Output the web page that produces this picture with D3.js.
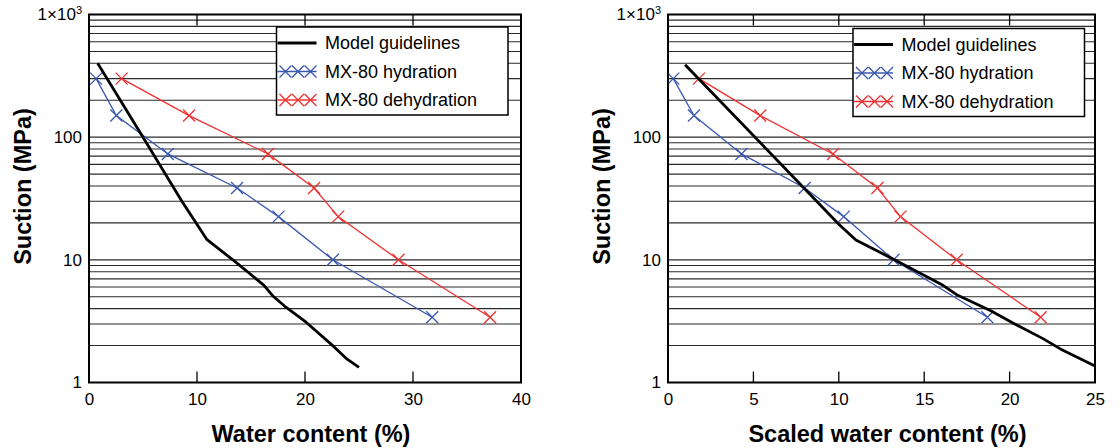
<!DOCTYPE html>
<html>
<head>
<meta charset="utf-8">
<script src="https://cdn.jsdelivr.net/npm/d3@7"></script>
<style>
  html, body { margin: 0; padding: 0; background: #fff; }
  svg { display: block; font-family: "Liberation Sans", Arial, sans-serif; }
</style>
</head>
<body>
<svg id="chart" width="1120" height="448"></svg>
<script>
// ---------------- DATA ----------------
const seriesNames = ["Model guidelines", "MX-80 hydration", "MX-80 dehydration"];
const suctionTicks = [1, 10, 100, 1000];
const leftXTicks = [0, 10, 20, 30, 40];
const rightXTicks = [0, 5, 10, 15, 20, 25];

// measured suction levels (MPa) for MX-80 points
const suction = [300, 150, 73, 38.5, 22.5, 10, 3.4];

// left panel: water content (%)
const hydrationWaterLeft   = [0.66, 2.53, 7.30, 13.71, 17.55, 22.58, 31.78];
const dehydrationWaterLeft = [3.02, 9.27, 16.57, 20.84, 23.07, 28.66, 37.14];
const modelWaterLeft   = [0.8, 5.0, 8.6, 10.9, 13.5, 16.2, 17.0, 18.1, 20.1, 22.7, 23.9, 25.0];
const modelSuctionLeft = [400, 100, 30, 14.7, 9.7, 6.2, 5.1, 4.2, 3.1, 1.95, 1.55, 1.33];

// right panel: scaled water content (%)
const hydrationWaterRight   = [0.31, 1.52, 4.30, 8.0, 10.29, 13.2, 18.7];
const dehydrationWaterRight = [1.81, 5.40, 9.66, 12.26, 13.61, 16.9, 21.82];
const modelWaterRight   = [1.0, 10.0, 11.0, 13.4, 16.1, 16.9, 18.9, 20.3, 21.9, 23.0, 25.0];
const modelSuctionRight = [390, 19.5, 14.5, 9.8, 6.2, 5.2, 3.85, 3.0, 2.3, 1.87, 1.36];

// ---------------- STYLE / LAYOUT ----------------
const colors = { model: "#000000", hyd: "#3a57b0", dehyd: "#ee3030" };
const panels = [
  { x0: 89, x1: 521, xmax: 40, xticks: leftXTicks, xlabel: "Water content (%)",
    model: [modelWaterLeft, modelSuctionLeft], hyd: hydrationWaterLeft, dehyd: dehydrationWaterLeft,
    ylabX: 31, legX: 276.5, legY: 27 },
  { x0: 668, x1: 1095, xmax: 25, xticks: rightXTicks, xlabel: "Scaled water content (%)",
    model: [modelWaterRight, modelSuctionRight], hyd: hydrationWaterRight, dehyd: dehydrationWaterRight,
    ylabX: 610, legX: 853, legY: 28.5 }
];
const yTop = 14.5, yBot = 382.5;

const svg = d3.select("#chart");

function cross(g, x, y, s, color) {
  g.append("path")
    .attr("d", `M${x - s},${y - s}L${x + s},${y + s}M${x - s},${y + s}L${x + s},${y - s}`)
    .attr("stroke", color).attr("stroke-width", 1.3).attr("fill", "none");
}

panels.forEach(p => {
  const x = d3.scaleLinear().domain([0, p.xmax]).range([p.x0, p.x1]);
  const y = d3.scaleLog().domain([1, 1000]).range([yBot, yTop]);
  const g = svg.append("g");

  // horizontal grid (all log minor values)
  const gridVals = [];
  for (let k = 0; k < 3; k++) for (let m = 1; m <= 9; m++) gridVals.push(m * Math.pow(10, k));
  g.append("g").selectAll("line").data(gridVals.filter(v => v > 1)).join("line")
    .attr("x1", p.x0).attr("x2", p.x1)
    .attr("y1", d => y(d)).attr("y2", d => y(d))
    .attr("stroke", "#2a2a2a").attr("stroke-width", 1.1);

  // inward ticks on top and bottom
  const inner = p.xticks.filter(v => v > 0 && v < p.xmax);
  g.append("g").selectAll("line").data(inner).join("line")
    .attr("x1", d => x(d)).attr("x2", d => x(d))
    .attr("y1", yTop).attr("y2", yTop + 11)
    .attr("stroke", "#000").attr("stroke-width", 1.3);
  g.append("g").selectAll("line").data(inner).join("line")
    .attr("x1", d => x(d)).attr("x2", d => x(d))
    .attr("y1", yBot).attr("y2", yBot - 11)
    .attr("stroke", "#000").attr("stroke-width", 1.3);

  // series lines
  const line = d3.line().x(d => x(d[0])).y(d => y(d[1]));
  const modelPts = p.model[0].map((w, i) => [w, p.model[1][i]]);
  const hydPts = p.hyd.map((w, i) => [w, suction[i]]);
  const dehPts = p.dehyd.map((w, i) => [w, suction[i]]);

  g.append("path").datum(hydPts).attr("d", line)
    .attr("fill", "none").attr("stroke", colors.hyd).attr("stroke-width", 1.3);
  hydPts.forEach(d => cross(g, x(d[0]), y(d[1]), 6, colors.hyd));
  g.append("path").datum(dehPts).attr("d", line)
    .attr("fill", "none").attr("stroke", colors.dehyd).attr("stroke-width", 1.3);
  dehPts.forEach(d => cross(g, x(d[0]), y(d[1]), 6, colors.dehyd));
  g.append("path").datum(modelPts).attr("d", line)
    .attr("fill", "none").attr("stroke", colors.model).attr("stroke-width", 2.8)
    .attr("stroke-linejoin", "round");

  // frame
  g.append("rect").attr("x", p.x0).attr("y", yTop)
    .attr("width", p.x1 - p.x0).attr("height", yBot - yTop)
    .attr("fill", "none").attr("stroke", "#000").attr("stroke-width", 2);

  // axes labels
  const xAxis = d3.axisBottom(x).tickValues(p.xticks).tickSize(0).tickPadding(10).tickFormat(d3.format("d"));
  const xa = g.append("g").attr("transform", `translate(0,${yBot})`).call(xAxis);
  xa.select(".domain").remove();
  xa.selectAll("text").attr("font-size", 17).attr("fill", "#000")
    .attr("font-family", "'Liberation Sans', Arial, sans-serif");

  const yAxis = d3.axisLeft(y).tickValues(suctionTicks).tickSize(0).tickPadding(7)
    .tickFormat(d => d === 1000 ? "" : String(d));
  const ya = g.append("g").attr("transform", `translate(${p.x0},0)`).call(yAxis);
  ya.select(".domain").remove();
  ya.selectAll("text").attr("font-size", 17).attr("fill", "#000")
    .attr("font-family", "'Liberation Sans', Arial, sans-serif");
  ya.selectAll(".tick").filter(d => d === 1000).select("text")
    .each(function () {
      const t = d3.select(this);
      t.append("tspan").text("1×10");
      t.append("tspan").text("3").attr("font-size", 11).attr("dy", "-0.55em");
    });

  // axis titles
  g.append("text").attr("x", (p.x0 + p.x1) / 2 + 6).attr("y", 442)
    .attr("text-anchor", "middle").attr("font-size", 23.5).attr("font-weight", "bold")
    .text(p.xlabel);
  g.append("text").attr("transform", `translate(${p.ylabX},186.5) rotate(-90)`)
    .attr("text-anchor", "middle").attr("font-size", 23.5).attr("font-weight", "bold")
    .text("Suction (MPa)");

  // legend
  const lg = g.append("g").attr("transform", `translate(${p.legX},${p.legY})`);
  lg.append("rect").attr("x", 0).attr("y", 0).attr("width", 231.5).attr("height", 88)
    .attr("fill", "#fff").attr("stroke", "#000").attr("stroke-width", 1.5);
  const rowY = [16, 44.5, 73];
  const rowColors = [colors.model, colors.hyd, colors.dehyd];
  seriesNames.forEach((name, i) => {
    const ry = rowY[i];
    lg.append("line").attr("x1", 1).attr("x2", 40).attr("y1", ry).attr("y2", ry)
      .attr("stroke", rowColors[i]).attr("stroke-width", i === 0 ? 3 : 1.3);
    if (i > 0) [9, 21.5, 34].forEach(cx => cross(lg, cx, ry, 6, rowColors[i]));
    lg.append("text").attr("x", 48.5).attr("y", ry + 6.3).attr("font-size", 18)
      .attr("fill", "#000").text(name);
  });
});
</script>
</body>
</html>
